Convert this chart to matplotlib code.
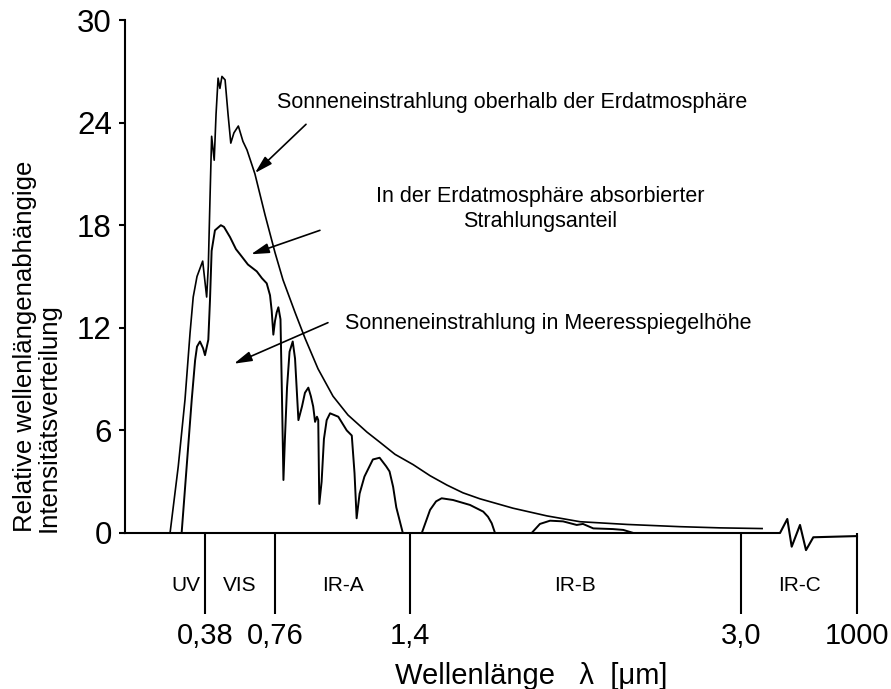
import numpy as np
import matplotlib
matplotlib.use('Agg')
import matplotlib.pyplot as plt

plt.rcParams['font.family'] = ['Liberation Sans', 'DejaVu Sans']

# solar spectrum above the atmosphere (wavelength in um, relative intensity)
lam_top = [0.214, 0.253, 0.285, 0.309, 0.324, 0.342, 0.369, 0.389, 0.398, 0.407,
           0.416, 0.430, 0.440, 0.451, 0.461, 0.472, 0.489, 0.505, 0.520, 0.537,
           0.561, 0.586, 0.608, 0.651, 0.706, 0.760, 0.798, 0.855, 0.902, 0.964,
           1.035, 1.106, 1.196, 1.258, 1.329, 1.415, 1.497, 1.579, 1.656, 1.738,
           1.898, 2.062, 2.222, 2.450, 2.705, 2.899, 3.102]
int_top = [0, 3.9, 7.8, 11.7, 13.8, 15.0, 15.9, 13.8, 15.6, 19.5,
           23.2, 21.8, 24.5, 26.6, 26.0, 26.7, 26.5, 24.5, 22.8, 23.4,
           23.8, 22.9, 22.4, 21.0, 18.6, 16.4, 14.8, 12.9, 11.4, 9.6,
           8.0, 6.9, 5.9, 5.3, 4.6, 4.0, 3.35, 2.8, 2.35, 2.0,
           1.45, 1.0, 0.66, 0.5, 0.37, 0.30, 0.26]

# solar spectrum at sea level
lam_sea = [0.269, 0.293, 0.317, 0.333, 0.342, 0.356, 0.371, 0.380, 0.398, 0.407,
           0.416, 0.434, 0.466, 0.483, 0.516, 0.548, 0.570, 0.613, 0.661, 0.689,
           0.715, 0.733, 0.742, 0.751, 0.760, 0.768, 0.776, 0.786, 0.793, 0.800,
           0.807, 0.817, 0.829, 0.844, 0.855, 0.871, 0.888, 0.902, 0.918, 0.930,
           0.941, 0.950, 0.959, 0.965, 0.970, 0.981, 0.992, 1.005, 1.021, 1.060,
           1.100, 1.124, 1.137, 1.147, 1.161, 1.184, 1.224, 1.256, 1.287, 1.303,
           1.320, 1.335, 1.366, 1.457, 1.497, 1.526, 1.553, 1.608, 1.690, 1.754,
           1.777, 1.795, 1.811, 1.988, 2.028, 2.077, 2.140, 2.206, 2.236, 2.286,
           2.381, 2.431, 2.480]
int_sea = [0, 3.9, 7.8, 10.1, 10.9, 11.2, 10.8, 10.4, 11.3, 13.6,
           16.5, 17.7, 18.0, 17.9, 17.3, 16.6, 16.3, 15.7, 15.3, 14.9,
           14.6, 13.9, 13.0, 11.6, 12.4, 12.9, 13.2, 12.5, 8.0, 3.1,
           5.5, 8.5, 10.6, 11.2, 10.2, 6.6, 7.4, 8.2, 8.5, 8.0,
           7.4, 6.5, 6.8, 6.6, 1.7, 3.0, 5.5, 6.6, 7.0, 6.8,
           6.0, 5.7, 3.5, 0.86, 2.3, 3.3, 4.3, 4.4, 3.9, 3.6,
           2.7, 1.5, 0, 0, 1.35, 1.85, 2.03, 1.93, 1.64, 1.25,
           0.95, 0.57, 0, 0, 0.53, 0.72, 0.68, 0.47, 0.53, 0.27,
           0.23, 0.18, 0]

tick_lam = [0.38, 0.76, 1.4, 3.0, 1000]
tick_text = ['0,38', '0,76', '1,4', '3,0', '1000']
band_names = ['UV', 'VIS', 'IR-A', 'IR-B', 'IR-C']
band_edges = [0.2, 0.38, 0.76, 1.4, 3.0, 1000]
y_ticks = [0, 6, 12, 18, 24, 30]

# the wavelength axis is stretched piecewise (with a break after 3,0)
scale_lam = [0, 0.38, 0.76, 1.4, 3.0, 3.2, 1000]
scale_pos = [0, 80, 150, 285, 616, 657.4, 732]


def fwd(x):
    return np.interp(x, scale_lam, scale_pos)


def inv(p):
    return np.interp(p, scale_pos, scale_lam)


fig = plt.figure(figsize=(8.91, 6.89), dpi=100)
ax = fig.add_axes([125 / 891, 156 / 689, 732 / 891, 513 / 689])
ax.set_xscale('function', functions=(fwd, inv))
ax.set_xlim(0, 1000)
ax.set_ylim(0, 30)

ax.plot(lam_top, int_top, color='black', lw=1.2, solid_joinstyle='round')
ax.plot(lam_sea, int_sea, color='black', lw=1.4, solid_joinstyle='round')

# axis line with break mark
brk_pos = [0, 655, 662.3, 666.7, 675, 681, 688.3, 732]
brk_y = [0, 0, 0.82, -0.8, 0.47, -1.0, -0.25, -0.18]
ax.plot(inv(np.array(brk_pos)), brk_y, color='black', lw=1.5, clip_on=False)

for s in ['top', 'right', 'bottom']:
    ax.spines[s].set_visible(False)
ax.spines['left'].set_linewidth(1.5)

ax.set_yticks(y_ticks)
ax.set_yticklabels([str(v) for v in y_ticks], fontsize=22.5)
ax.tick_params(axis='y', length=4.5, width=1.5, pad=5)
ax.set_xticks(tick_lam)
ax.set_xticklabels(tick_text, fontsize=21)
ax.xaxis.set_minor_locator(matplotlib.ticker.NullLocator())
ax.tick_params(axis='x', length=58, width=1.5, pad=6)

for i, name in enumerate(band_names):
    mid = inv((fwd(band_edges[i]) + fwd(band_edges[i + 1])) / 2)
    ax.text(mid, -3.05, name, ha='center', va='center', fontsize=15)

arrow = dict(arrowstyle='-|>,head_length=0.9,head_width=0.25', mutation_scale=12,
             color='black', lw=1.2, shrinkA=0, shrinkB=0)
ax.annotate('', xy=(0.651, 21.05), xytext=(0.907, 23.9), arrowprops=arrow)
ax.annotate('', xy=(0.630, 16.3), xytext=(0.973, 17.7), arrowprops=arrow)
ax.annotate('', xy=(0.537, 9.9), xytext=(1.011, 12.3), arrowprops=arrow)

ax.text(1.893, 25.15, 'Sonneneinstrahlung oberhalb der Erdatmosphäre',
        ha='center', va='center', fontsize=15.5)
ax.text(2.028, 18.95, 'In der Erdatmosphäre absorbierter\nStrahlungsanteil',
        ha='center', va='center', multialignment='center', fontsize=15.5)
ax.text(2.067, 12.28, 'Sonneneinstrahlung in Meeresspiegelhöhe',
        ha='center', va='center', fontsize=15.5)

fig.text(531 / 891, 13 / 689, 'Wellenlänge   λ  [μm]', ha='center', va='center', fontsize=21)
fig.text(37 / 891, 157 / 689, 'Relative wellenlängenabhängige\nIntensitätsverteilung',
         rotation=90, ha='center', va='bottom', multialignment='left',
         fontsize=18.5, linespacing=1.0)

fig.savefig('out.png', dpi=100)
